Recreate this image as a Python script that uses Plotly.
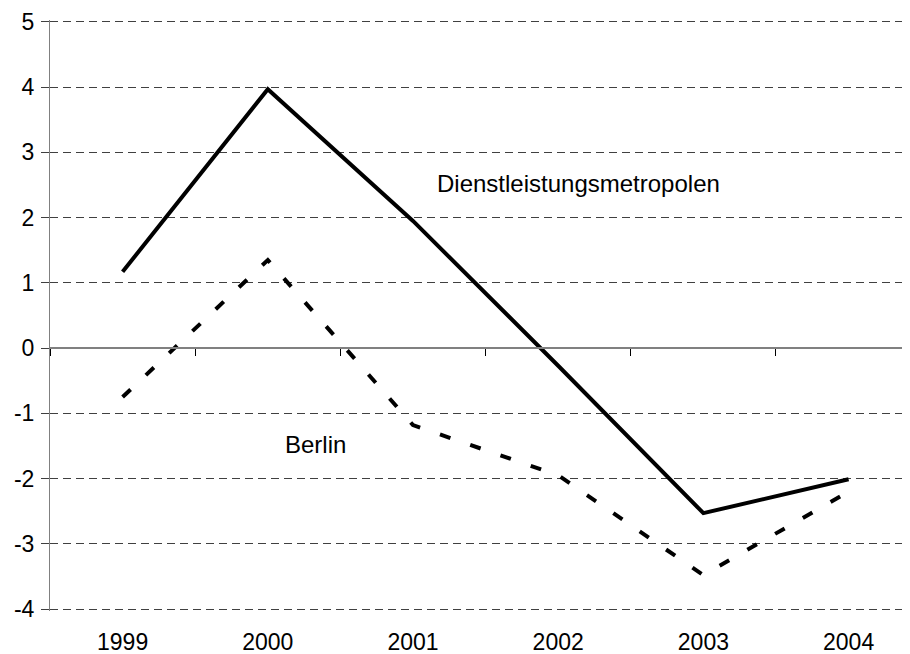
import plotly.graph_objects as go

years = ["1999", "2000", "2001", "2002", "2003", "2004"]
dienst = [1.17, 3.97, 1.95, -0.27, -2.53, -2.01]
berlin = [-0.75, 1.35, -1.18, -1.95, -3.48, -2.2]
y_ticks = [-4, -3, -2, -1, 0, 1, 2, 3, 4, 5]
y_ticktext = ["-4", "-3", "-2", "-1", "0", "1", "2", "3", "4", "5"]

FONT = "Liberation Sans, Arial, sans-serif"
Y_RANGE = [-4.03, 5.03]

fig = go.Figure()
fig.add_trace(go.Scatter(x=years, y=dienst, mode="lines",
                         line=dict(color="black", width=4),
                         showlegend=False, hoverinfo="skip"))
fig.add_trace(go.Scatter(x=years, y=berlin, mode="lines",
                         line=dict(color="black", width=4, dash="11px,21px"),
                         showlegend=False, hoverinfo="skip"))
# helper trace for the zero-line axis with boundary ticks
fig.add_trace(go.Scatter(x=years, y=dienst, xaxis="x2", mode="lines",
                         line=dict(color="rgba(0,0,0,0)", width=0),
                         showlegend=False, hoverinfo="skip"))

fig.add_annotation(x=2.15, y=2.52, text="Dienstleistungsmetropolen", showarrow=False,
                   xanchor="left", yanchor="middle", font=dict(size=24, color="black", family=FONT))
fig.add_annotation(x=1.105, y=-1.47, text="Berlin", showarrow=False,
                   xanchor="left", yanchor="middle", font=dict(size=24, color="black", family=FONT))

fig.update_layout(
    width=902, height=646,
    margin=dict(l=42, r=0, t=12, b=43),
    paper_bgcolor="white", plot_bgcolor="white",
    font=dict(family=FONT, size=23, color="black"),
    xaxis=dict(type="category", categoryorder="array", categoryarray=years,
               range=[-0.5, 5.423], showline=False, showgrid=False, zeroline=False,
               ticks="", ticklabelstandoff=15, automargin=False,
               tickfont=dict(size=23, color="black")),
    xaxis2=dict(type="category", categoryorder="array", categoryarray=years,
                overlaying="x", matches="x", anchor="free",
                position=(0 - Y_RANGE[0]) / (Y_RANGE[1] - Y_RANGE[0]),
                showline=True, linecolor="#808080", linewidth=2, automargin=False,
                ticks="outside", tickson="boundaries", ticklen=7, tickcolor="black", tickwidth=1,
                showticklabels=False, showgrid=False, zeroline=False),
    yaxis=dict(range=Y_RANGE, tickmode="array", tickvals=y_ticks, ticktext=y_ticktext,
               showline=True, linecolor="#808080", linewidth=1,
               ticks="outside", ticklen=8, tickcolor="#404040", tickwidth=1,
               showgrid=True, gridcolor="#404040", gridwidth=1, griddash="8px,5px",
               zeroline=False, ticklabelstandoff=2, automargin=False,
               tickfont=dict(size=23, color="black")),
)

fig.write_html("out.html")
